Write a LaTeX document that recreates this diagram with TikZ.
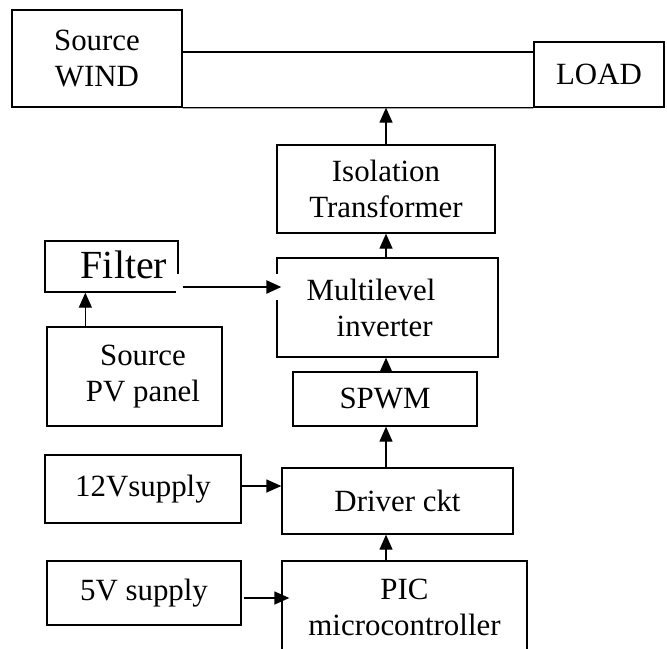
\documentclass[tikz,border=0pt]{standalone}
\usepackage{fontspec}
\setmainfont{Liberation Serif}
\usetikzlibrary{arrows.meta}

\begin{document}
\begin{tikzpicture}[x=1bp,y=-1bp,
  block/.style={draw, line width=1.3bp, inner sep=0pt, align=center, font=\fontsize{31}{36}\selectfont},
  txt/.style={inner sep=0pt, align=center, font=\fontsize{31}{36}\selectfont},
  arr/.style={line width=1.3bp, -{Triangle[length=15bp,width=13bp]}}]
\clip (0,0) rectangle (667,649);

\node[block, minimum width=170bp, minimum height=97bp] (wind) at (97,58.5) {Source\\WIND};
\node[block, minimum width=130bp, minimum height=65bp] (load) at (599,74.5) {LOAD};
\draw[line width=1.3bp] ([yshift=6.5bp]wind.east) -- ([yshift=6.5bp]wind.east -| load.west);
\draw[line width=1.3bp] (wind.south east) -- (load.south west);

\node[block, minimum width=218bp, minimum height=88bp] (iso) at (386,189) {Isolation\\Transformer};
\node[block, minimum width=221bp, minimum height=99bp] (ml) at (387.5,307.5) {};
\node[txt, align=left] (mltxt) at ([xshift=-16.5bp]ml) {Multilevel\\\hspace*{30bp}inverter};
\node[block, minimum width=184bp, minimum height=54bp] (spwm) at (385,399) {SPWM};
\node[block, minimum width=231bp, minimum height=66bp] (drv) at (397.5,501) {Driver ckt};
\node[block, minimum width=245bp, minimum height=93bp] (pic) at (404.5,607.5) {PIC\\microcontroller};

\node[block, minimum width=133bp, minimum height=51bp] (filter) at (111.5,266.5) {};
\node[txt, font=\fontsize{40}{46}\selectfont] (filtertxt) at ([xshift=12.5bp,yshift=2bp]filter) {Filter};
\node[block, minimum width=175bp, minimum height=99bp] (pv) at (134.5,376.5) {};
\node[txt] (pvtxt) at ([xshift=8.5bp]pv) {Source\\PV panel};
\node[block, minimum width=196bp, minimum height=68bp] (v12) at (143,489) {12Vsupply};
\node[block, minimum width=194bp, minimum height=64bp] (v5) at (144,593) {5V supply};

\fill[white] (176,274) rectangle (279,300);

\draw[arr] (iso.north) -- (iso.north |- wind.south);
\draw[arr] (iso.south |- ml.north) -- (iso.south);
\draw[arr] (iso.south |- spwm.north) -- (iso.south |- ml.south);
\draw[arr] (iso.south |- drv.north) -- (iso.south |- spwm.south);
\draw[arr] (iso.south |- pic.north) -- (iso.south |- drv.south);
\draw[arr] ([xshift=41bp]filter.south west |- pv.north) -- ([xshift=41bp]filter.south west);
\draw[arr, line width=2.5bp] ([xshift=4bp,yshift=-20.5bp]filter.east) -- ([xshift=5bp,yshift=-20.5bp]filter.east -| ml.west);
\draw[arr] ([yshift=3bp]v12.east) -- ([yshift=3bp]v12.east -| drv.west);
\draw[arr] ([xshift=2bp,yshift=-5bp]v5.east) -- ([xshift=8bp,yshift=-5bp]v5.east -| pic.west);
\end{tikzpicture}
\end{document}
